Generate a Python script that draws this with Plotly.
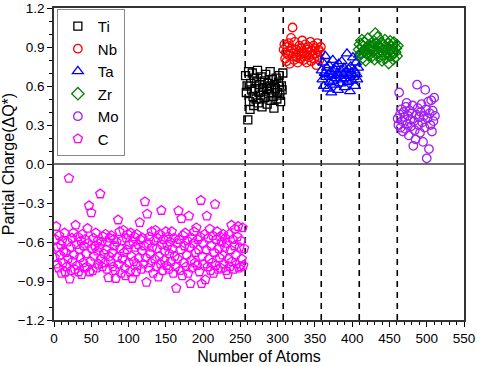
import numpy as np
import plotly.graph_objects as go

# ---- data ----
series_names = ["Ti", "Nb", "Ta", "Zr", "Mo", "C"]
first_atom = {"C": 1, "Ti": 257, "Nb": 308, "Ta": 359, "Zr": 410, "Mo": 461}
dividers = [256.5, 307.5, 358.5, 409.5, 460.5]

C_vals = [
    -0.72, -0.58, -0.48, -0.77, -0.64, -0.80, -0.55, -0.70, -0.62, -0.84, -0.59, -0.76, -0.67, -0.53, -0.83,
    -0.68, -0.79, -0.60, -0.73, -0.11, -0.885, -0.64, -0.82, -0.57, -0.75, -0.53, -0.70, -0.81, -0.47, -0.62,
    -0.78, -0.56, -0.83, -0.66, -0.72, -0.59, -0.85, -0.54, -0.76, -0.63, -0.80, -0.58, -0.69, -0.79, -0.495,
    -0.61, -0.32, -0.83, -0.75, -0.375, -0.65, -0.82, -0.57, -0.71, -0.63, -0.53, -0.80, -0.67, -0.59, -0.77,
    -0.64, -0.23, -0.73, -0.60, -0.79, -0.56, -0.69, -0.76, -0.54, -0.66, -0.81, -0.60, -0.875, -0.71, -0.57,
    -0.75, -0.55, -0.68, -0.79, -0.58, -0.63, -0.82, -0.88, -0.60, -0.72, -0.43, -0.77, -0.52, -0.65, -0.84,
    -0.59, -0.73, -0.51, -0.68, -0.80, -0.86, -0.57, -0.66, -0.54, -0.76, -0.62, -0.83, -0.53, -0.71, -0.88,
    -0.60, -0.75, -0.56, -0.64, -0.83, -0.54, -0.78, -0.62, -0.72, -0.45, -0.58, -0.81, -0.67, -0.57, -0.77,
    -0.63, -0.29, -0.72, -0.91, -0.385, -0.61, -0.80, -0.56, -0.69, -0.76, -0.52, -0.64, -0.84, -0.59, -0.73,
    -0.51, -0.79, -0.65, -0.57, -0.87, -0.71, -0.54, -0.77, -0.357, -0.62, -0.82, -0.58, -0.74, -0.67, -0.52,
    -0.78, -0.63, -0.56, -0.81, -0.69, -0.60, -0.75, -0.52, -0.65, -0.84, -0.57, -0.71, -0.79, -0.956, -0.61,
    -0.73, -0.36, -0.58, -0.82, -0.66, -0.42, -0.86, -0.55, -0.76, -0.63, -0.53, -0.79, -0.70, -0.59, -0.84,
    -0.40, -0.64, -0.92, -0.74, -0.57, -0.80, -0.61, -0.52, -0.76, -0.68, -0.49, -0.78, -0.58, -0.66, -0.83,
    -0.56, -0.28, -0.92, -0.71, -0.61, -0.77, -0.54, -0.89, -0.66, -0.40, -0.79, -0.57, -0.73, -0.50, -0.82,
    -0.63, -0.76, -0.55, -0.84, -0.68, -0.31, -0.78, -0.58, -0.52, -0.81, -0.65, -0.72, -0.56, -0.80, -0.60,
    -0.70, -0.54, -0.77, -0.64, -0.57, -0.82, -0.61, -0.85, -0.73, -0.54, -0.79, -0.66, -0.47, -0.75, -0.58,
    -0.81, -0.63, -0.50, -0.70, -0.77, -0.56, -0.48, -0.80, -0.64, -0.79, -0.59, -0.73, -0.49, -0.78, -0.65,
]

Ti_vals = [
    0.68, 0.55, 0.60, 0.34, 0.71, 0.48, 0.42, 0.62, 0.57, 0.70, 0.52, 0.45, 0.66, 0.58, 0.50, 0.63, 0.72,
    0.47, 0.55, 0.61, 0.53, 0.67, 0.44, 0.59, 0.56, 0.64, 0.51, 0.69, 0.58, 0.46, 0.62, 0.54, 0.60, 0.71,
    0.49, 0.57, 0.65, 0.52, 0.43, 0.61, 0.58, 0.66, 0.50, 0.55, 0.63, 0.68, 0.53, 0.48, 0.60, 0.57, 0.70,
]

Nb_vals = [
    0.88, 0.92, 0.81, 0.86, 0.79, 0.90, 0.84, 0.93, 0.77, 0.87, 0.97, 0.89, 1.05, 0.85, 0.80, 0.94, 0.83,
    0.88, 0.82, 0.78, 0.86, 0.91, 0.84, 0.81, 0.89, 0.95, 0.87, 0.80, 0.85, 0.92, 0.83, 0.78, 0.88, 0.90,
    0.82, 0.86, 0.94, 0.79, 0.87, 0.84, 0.91, 0.81, 0.89, 0.85, 0.76, 0.93, 0.83, 0.88, 0.80, 0.86, 0.90,
]

Ta_vals = [
    0.72, 0.65, 0.78, 0.60, 0.70, 0.83, 0.67, 0.74, 0.58, 0.69, 0.76, 0.63, 0.71, 0.55, 0.68, 0.80, 0.64,
    0.73, 0.61, 0.75, 0.66, 0.70, 0.57, 0.77, 0.68, 0.62, 0.72, 0.79, 0.65, 0.69, 0.74, 0.59, 0.71, 0.66,
    0.85, 0.63, 0.73, 0.68, 0.56, 0.75, 0.70, 0.64, 0.82, 0.67, 0.72, 0.60, 0.78, 0.69, 0.65, 0.74, 0.84,
]

Zr_vals = [
    0.88, 0.92, 0.85, 0.95, 0.82, 0.90, 0.87, 0.93, 0.80, 0.89, 0.86, 0.96, 0.84, 0.91, 0.88, 0.90, 0.83,
    0.90, 0.87, 0.94, 0.81, 1.00, 0.92, 0.85, 0.97, 0.86, 0.90, 0.83, 0.88, 0.93, 0.80, 0.87, 0.91, 0.85,
    0.95, 0.82, 0.89, 0.86, 0.92, 0.78, 0.88, 0.94, 0.84, 0.90, 0.87, 0.81, 0.93, 0.86, 0.89, 0.83, 0.91,
]

Mo_vals = [
    0.35, 0.30, 0.55, 0.38, 0.28, 0.42, 0.33, 0.25, 0.40, 0.36, 0.27, 0.44, 0.47, 0.31, 0.37, 0.22, 0.41,
    0.34, 0.29, 0.39, 0.45, 0.14, 0.33, 0.26, 0.19, 0.38, 0.61, 0.43, 0.30, 0.36, 0.24, 0.40, 0.46, 0.32,
    0.17, 0.37, 0.28, 0.57, 0.42, 0.044, 0.35, 0.48, 0.115, 0.39, 0.30, 0.49, 0.25, 0.41, 0.33, 0.51, 0.37,
]

values = {"Ti": Ti_vals, "Nb": Nb_vals, "Ta": Ta_vals, "Zr": Zr_vals, "Mo": Mo_vals, "C": C_vals}

x_ticks = list(range(0, 551, 50))
y_ticks = [-1.2, -0.9, -0.6, -0.3, 0.0, 0.3, 0.6, 0.9, 1.2]

# ---- styles ----
colors = {"Ti": "#000000", "Nb": "#FF0000", "Ta": "#0000FF", "Zr": "#008000", "Mo": "#A020F0", "C": "#FF00FF"}
symbols = {"Ti": "square-open", "Nb": "circle-open", "Ta": "triangle-up-open",
           "Zr": "diamond-open", "Mo": "circle-open", "C": "pentagon-open"}
sizes = {"Ti": 8, "Nb": 8.5, "Ta": 9.5, "Zr": 9.5, "Mo": 8.5, "C": 9.5}

fig = go.Figure()
for name in series_names:
    vals = values[name]
    xs = np.arange(first_atom[name], first_atom[name] + len(vals))
    fig.add_trace(go.Scatter(
        x=xs, y=vals, mode="markers", name=name,
        marker=dict(symbol=symbols[name], size=sizes[name], color=colors[name],
                    line=dict(width=1.3, color=colors[name])),
    ))

shapes = []
for d in dividers:
    shapes.append(dict(type="line", xref="x", yref="paper", x0=d, x1=d, y0=0, y1=1,
                       line=dict(color="black", width=1.6, dash="6px,5px"), layer="below"))
shapes.append(dict(type="line", xref="paper", yref="y", x0=0, x1=1, y0=0, y1=0,
                   line=dict(color="#404040", width=1.6), layer="below"))

font_family = "Liberation Sans, Arial, sans-serif"

fig.update_layout(
    width=477, height=366,
    margin=dict(l=54, r=13, t=8, b=46),
    paper_bgcolor="white", plot_bgcolor="white",
    font=dict(family=font_family, size=13.5, color="black"),
    shapes=shapes,
    showlegend=True,
    legend=dict(x=0.007, y=0.997, xanchor="left", yanchor="top",
                bordercolor="#888888", borderwidth=1, bgcolor="white",
                font=dict(size=15, family=font_family), tracegroupgap=0),
)

fig.update_xaxes(
    range=[0, 550], tickvals=x_ticks, ticks="outside", ticklen=5, tickwidth=1.3, tickcolor="black",
    showline=True, linewidth=1.6, linecolor="#333333", mirror=True, showgrid=False, zeroline=False,
    minor=dict(dtick=10, tick0=0, ticks="outside", ticklen=3, tickwidth=1, tickcolor="black", showgrid=False),
    title=dict(text="Number of Atoms", font=dict(size=16), standoff=6),
    tickfont=dict(size=13.5), automargin=False,
)
fig.update_yaxes(
    range=[-1.2, 1.2], tickvals=y_ticks, tickformat=".1f", ticks="outside", ticklen=5, tickwidth=1.3,
    tickcolor="black",
    showline=True, linewidth=1.6, linecolor="#333333", mirror=True, showgrid=False, zeroline=False,
    minor=dict(dtick=0.1, tick0=0, ticks="outside", ticklen=3, tickwidth=1, tickcolor="black", showgrid=False),
    title=dict(text="Partial Charge(ΔQ*)", font=dict(size=16), standoff=4),
    tickfont=dict(size=13.5), automargin=False,
)

fig.write_html("out.html", config={"displayModeBar": False},
               post_script="document.body.style.margin='0';")
